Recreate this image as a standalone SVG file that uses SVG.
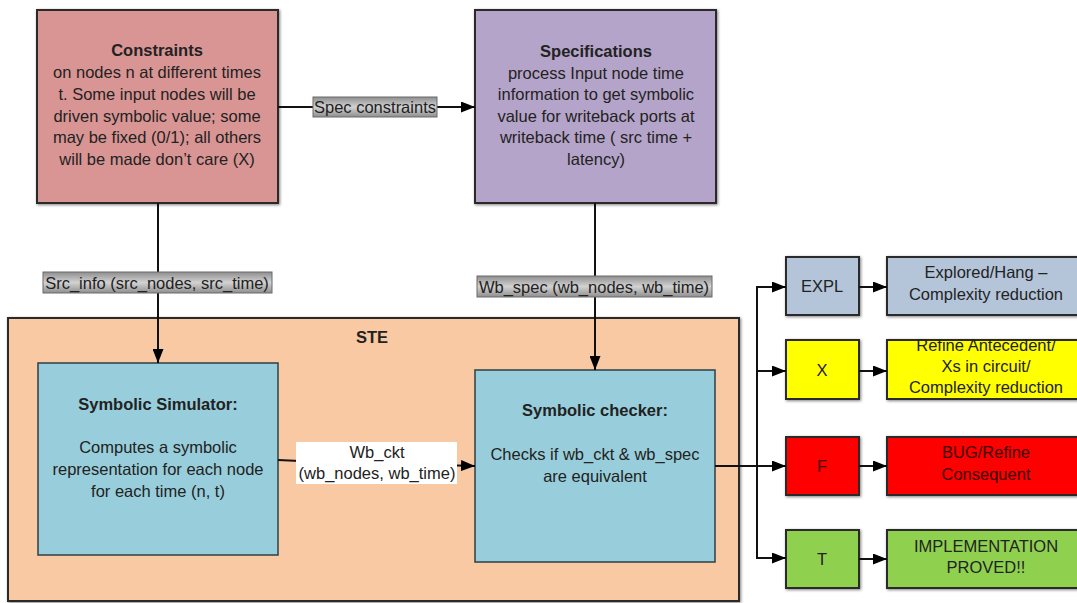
<svg xmlns="http://www.w3.org/2000/svg" width="1077" height="603" viewBox="0 0 1077 603">
<defs>
<style>
text{font-family:"Liberation Sans",Arial,sans-serif;font-size:16.5px;fill:#222;text-anchor:middle}
.b{font-weight:bold}
.box{stroke:#2a2a2a;stroke-width:2;filter:url(#sh)}
.inner{stroke:#2c3f46;stroke-width:1.5}
.conn{stroke:#111;stroke-width:2;fill:none}
.lbl{fill:url(#lg);stroke:#6a6a6a;stroke-width:1}
</style>
<filter id="sh" x="-10%" y="-10%" width="120%" height="120%">
<feGaussianBlur in="SourceAlpha" stdDeviation="1.5" result="b"/>
<feOffset dx="1" dy="1" result="o"/>
<feFlood flood-color="#000" flood-opacity="0.5"/>
<feComposite in2="o" operator="in"/>
<feMerge><feMergeNode/><feMergeNode in="SourceGraphic"/></feMerge>
</filter>
<linearGradient id="lg" x1="0" y1="0" x2="0" y2="1">
<stop offset="0" stop-color="#8e8e8e"/>
<stop offset="0.5" stop-color="#d2d2d2"/>
<stop offset="1" stop-color="#8e8e8e"/>
</linearGradient>
<marker id="ar" viewBox="0 0 14 11" refX="14" refY="5.5" markerWidth="14" markerHeight="11" orient="auto" markerUnits="userSpaceOnUse">
<path d="M0,0 L14,5.5 L0,11 z" fill="#000"/>
</marker>
</defs>

<g id="ste">
<rect class="box" x="8" y="318" width="731" height="283" fill="#f9c9a4"/>
<text class="b" x="372" y="343">STE</text>
</g>

<g id="constraints">
<rect class="box" x="37" y="10" width="241" height="193" fill="#d99594"/>
<text class="b" x="157" y="56">Constraints</text>
<text x="157" y="78">on nodes n at different times</text>
<text x="157" y="100">t. Some input nodes will be</text>
<text x="157" y="122">driven symbolic value; some</text>
<text x="157" y="143">may be fixed (0/1); all others</text>
<text x="157" y="165">will be made don’t care (X)</text>
</g>

<g id="specifications">
<rect class="box" x="475" y="10" width="241" height="193" fill="#b5a4c9"/>
<text class="b" x="596" y="57">Specifications</text>
<text x="596" y="79">process Input node time</text>
<text x="596" y="100">information to get symbolic</text>
<text x="596" y="122">value for writeback ports at</text>
<text x="596" y="143">writeback time ( src time +</text>
<text x="596" y="165">latency)</text>
</g>

<g id="simulator">
<rect class="inner" x="38" y="363" width="240" height="192" fill="#98cedb"/>
<text class="b" x="158" y="410">Symbolic Simulator:</text>
<text x="158" y="453">Computes a symbolic</text>
<text x="158" y="475">representation for each node</text>
<text x="158" y="497">for each time (n, t)</text>
</g>

<g id="checker">
<rect class="inner" x="475" y="370" width="240" height="192" fill="#98cedb"/>
<text class="b" x="595" y="416">Symbolic checker:</text>
<text x="595" y="460">Checks if wb_ckt &amp; wb_spec</text>
<text x="595" y="482">are equivalent</text>
</g>

<g id="expl">
<rect class="box" x="786" y="257" width="73" height="58" fill="#b4c5da"/>
<text x="822" y="292">EXPL</text>
</g>
<g id="expl-r">
<rect class="box" x="887" y="257" width="198" height="58" fill="#b4c5da"/>
<text x="986" y="278">Explored/Hang –</text>
<text x="986" y="300">Complexity reduction</text>
</g>

<g id="x">
<rect class="box" x="786" y="340" width="73" height="59" fill="#ffff00"/>
<text x="822" y="376">X</text>
</g>
<g id="x-r">
<rect class="box" x="887" y="340" width="198" height="59" fill="#ffff00"/>
<text x="986" y="351">Refine Antecedent/</text>
<text x="986" y="372">Xs in circuit/</text>
<text x="986" y="393">Complexity reduction</text>
</g>

<g id="f">
<rect class="box" x="786" y="437" width="73" height="58" fill="#ff0000"/>
<text x="822" y="472" style="fill:#3a0000">F</text>
</g>
<g id="f-r">
<rect class="box" x="887" y="437" width="198" height="58" fill="#ff0000"/>
<text x="986" y="458" style="fill:#3a0000">BUG/Refine</text>
<text x="986" y="480" style="fill:#3a0000">Consequent</text>
</g>

<g id="t">
<rect class="box" x="786" y="530" width="73" height="58" fill="#8fd150"/>
<text x="822" y="565">T</text>
</g>
<g id="t-r">
<rect class="box" x="887" y="530" width="198" height="58" fill="#8fd150"/>
<text x="986" y="552">IMPLEMENTATION</text>
<text x="986" y="573">PROVED!!</text>
</g>

<g id="connectors">
<line class="conn" x1="278" y1="107" x2="475" y2="107" marker-end="url(#ar)"/>
<rect class="lbl" x="313" y="97" width="124" height="20"/>
<text x="375" y="113">Spec constraints</text>

<line class="conn" x1="158" y1="203" x2="158" y2="363" marker-end="url(#ar)"/>
<rect class="lbl" x="43" y="272" width="229" height="21"/>
<text x="157" y="289">Src_info (src_nodes, src_time)</text>

<line class="conn" x1="595" y1="203" x2="595" y2="370" marker-end="url(#ar)"/>
<rect class="lbl" x="477" y="276" width="235" height="21"/>
<text x="594" y="293">Wb_spec (wb_nodes, wb_time)</text>

<polyline class="conn" points="278,460 300,461 475,466" marker-end="url(#ar)"/>
<rect x="296" y="442" width="161" height="42" fill="#fff"/>
<text x="377" y="458">Wb_ckt</text>
<text x="377" y="479">(wb_nodes, wb_time)</text>

<line class="conn" x1="715" y1="466" x2="786" y2="466" marker-end="url(#ar)"/>
<polyline class="conn" points="786,287 757,287 757,558 786,558" marker-end="url(#ar)"/>
<line class="conn" x1="757" y1="287" x2="786" y2="287" marker-end="url(#ar)"/>
<line class="conn" x1="757" y1="371" x2="786" y2="371" marker-end="url(#ar)"/>
<line class="conn" x1="859" y1="287" x2="887" y2="287" marker-end="url(#ar)"/>
<line class="conn" x1="859" y1="371" x2="887" y2="371" marker-end="url(#ar)"/>
<line class="conn" x1="859" y1="466" x2="887" y2="466" marker-end="url(#ar)"/>
<line class="conn" x1="859" y1="559" x2="887" y2="559" marker-end="url(#ar)"/>
</g>
</svg>
